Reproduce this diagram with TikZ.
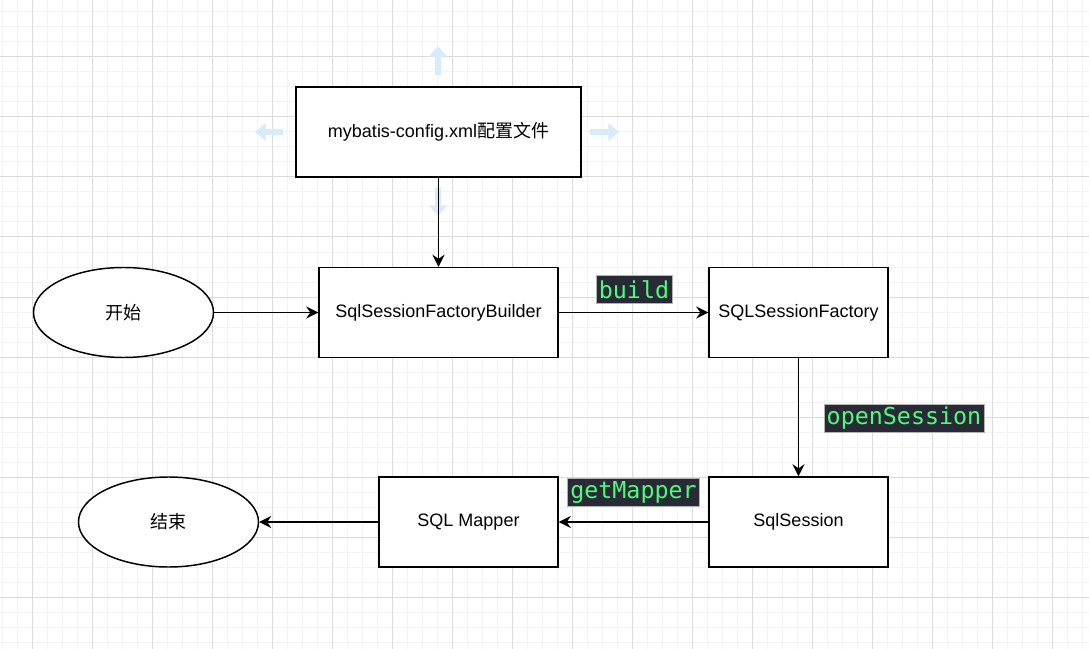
\documentclass[tikz,border=0pt]{standalone}
\usepackage{fontspec}
\setmainfont{Liberation Sans}
\newfontfamily\cjk{Noto Sans CJK SC}
\newfontfamily\codefont{DejaVu Sans Mono}
\usetikzlibrary{arrows.meta,shapes.geometric}
\definecolor{gridminor}{HTML}{F3F3F3}
\definecolor{gridmajor}{HTML}{DADADA}
\definecolor{hoverblue}{HTML}{D6ECFA}
\definecolor{codebg}{HTML}{282A36}
\definecolor{codefg}{HTML}{50FA7B}
\tikzset{
  boxnode/.style={draw=black,line width=1.1pt,fill=white,rectangle,inner sep=0pt,
    minimum width=#1,minimum height=67.5pt,font=\fontsize{13.5}{16}\selectfont},
  ovalnode/.style={draw=black,line width=1.1pt,fill=white,ellipse,inner sep=0pt,
    minimum width=135pt,minimum height=67.5pt,font=\fontsize{13.5}{16}\selectfont\cjk},
  flow/.style={draw=black,line width=1.1pt,-{Stealth[length=9pt,width=9pt,inset=3pt]}},
  codelabel/.style={fill=codebg,draw=gray!60,line width=0.4pt,text=codefg,inner xsep=2pt,inner ysep=0pt,
    minimum height=21pt,font=\fontsize{17.5}{19}\selectfont\codefont},
  hoverarrow/.style={draw=hoverblue,line width=4.5pt,-{Triangle[length=8pt,width=13pt]}}
}
\begin{document}
\begin{tikzpicture}[x=0.75pt,y=-0.75pt]
\useasboundingbox (0,0) rectangle (1089,649);
\fill[white] (0,0) rectangle (1089,649);
% grid
\foreach \i in {0,...,72} {\draw[gridminor,line width=0.75pt] ({2+15*\i},0) -- ({2+15*\i},649);}
\foreach \i in {0,...,43} {\draw[gridminor,line width=0.75pt] (0,{12+15*\i}) -- (1089,{12+15*\i});}
\foreach \i in {0,...,18} {\draw[gridmajor,line width=0.75pt] ({32+60*\i},0) -- ({32+60*\i},649);}
\foreach \i in {0,...,10} {\draw[gridmajor,line width=0.75pt] (0,{57+60*\i}) -- (1089,{57+60*\i});}
% hover arrows
\coordinate (hu1) at (438,75); \coordinate (hu2) at (438,46);
\coordinate (hl1) at (283,132); \coordinate (hl2) at (255,132);
\coordinate (hr1) at (590,132); \coordinate (hr2) at (619,132);
\coordinate (hd1) at (438,188); \coordinate (hd2) at (438,216);
\draw[hoverarrow] (hu1) -- (hu2);
\draw[hoverarrow] (hl1) -- (hl2);
\draw[hoverarrow] (hr1) -- (hr2);
\draw[hoverarrow] (hd1) -- (hd2);
% nodes
\node[boxnode=213.75pt] (config) at (438.5,132) {mybatis-config.xml{\cjk 配置文件}};
\node[boxnode=179.25pt] (builder) at (438.5,312.5) {SqlSessionFactoryBuilder};
\node[boxnode=134.25pt] (factory) at (798.5,312.5) {SQLSessionFactory};
\node[boxnode=134.25pt] (session) at (798.5,522) {SqlSession};
\node[boxnode=134.25pt] (mapper) at (468.5,522) {SQL Mapper};
\node[ovalnode] (start) at (123.5,312.5) {开始};
\node[ovalnode] (end) at (168.5,522) {结束};
% connectors
\draw[flow] (config) -- (builder);
\draw[flow] (start) -- (builder);
\draw[flow] (builder) -- (factory);
\draw[flow] (factory) -- (session);
\draw[flow] (session) -- (mapper);
\draw[flow] (mapper) -- (end);
% labels
\node[codelabel] (lbuild) at (634,289.5) {build};
\node[codelabel] (lopen) at (904,418) {openSession};
\node[codelabel] (lget) at (633.5,492) {getMapper};
\end{tikzpicture}
\end{document}
